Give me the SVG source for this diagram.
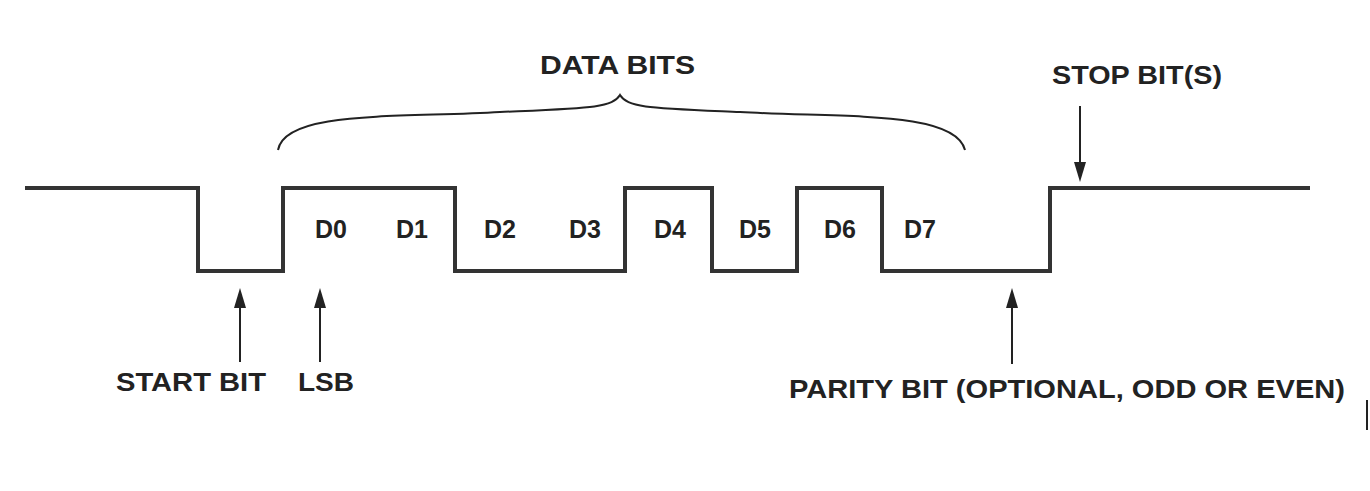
<svg xmlns="http://www.w3.org/2000/svg" width="1370" height="491" viewBox="0 0 1370 491">
<style>
.w{fill:none;stroke:#333;stroke-width:4}
.a{stroke:#222;stroke-width:2;fill:none}
.h{fill:#222}
text{font-family:"Liberation Sans",Arial,sans-serif;font-weight:bold;font-size:25px;fill:#222}
</style>
<rect width="1370" height="491" fill="#fff"/>
<g id="connectors">
<path class="w" d="M25,188 H198 V271 H283 V188 H455 V271 H625 V188 H712 V271 H797 V188 H882 V271 H1050 V188 H1310"/>
<path class="a" d="M278,150 C285,110 400,118 500,112 C590,108 612,108 620,95 C628,108 650,108 740,112 C840,118 955,110 965,150" stroke-width="2.5"/>
<line class="a" x1="240" y1="362" x2="240" y2="300"/><path class="h" d="M240,288 L246,308 L234,308 Z"/>
<line class="a" x1="320" y1="362" x2="320" y2="300"/><path class="h" d="M320,288 L326,308 L314,308 Z"/>
<line class="a" x1="1012" y1="364" x2="1012" y2="300"/><path class="h" d="M1012,288 L1018,308 L1006,308 Z"/>
<line class="a" x1="1080" y1="106" x2="1080" y2="170"/><path class="h" d="M1080,182 L1086,162 L1074,162 Z"/>
<line x1="1367" y1="400" x2="1367" y2="430" stroke="#222" stroke-width="2"/>
</g>
<g id="bits" text-anchor="middle">
<text x="331" y="238">D0</text><text x="412" y="238">D1</text><text x="500" y="238">D2</text><text x="585" y="238">D3</text>
<text x="670" y="238">D4</text><text x="755" y="238">D5</text><text x="840" y="238">D6</text><text x="920" y="238">D7</text>
</g>
<g id="labels">
<text x="540" y="74" textLength="155" lengthAdjust="spacingAndGlyphs">DATA BITS</text>
<text x="1052" y="84" textLength="170" lengthAdjust="spacingAndGlyphs">STOP BIT(S)</text>
<text x="116" y="391" textLength="150" lengthAdjust="spacingAndGlyphs">START BIT</text>
<text x="298" y="391" textLength="56" lengthAdjust="spacingAndGlyphs">LSB</text>
<text x="789" y="398" textLength="556" lengthAdjust="spacingAndGlyphs">PARITY BIT (OPTIONAL, ODD OR EVEN)</text>
</g>
</svg>
